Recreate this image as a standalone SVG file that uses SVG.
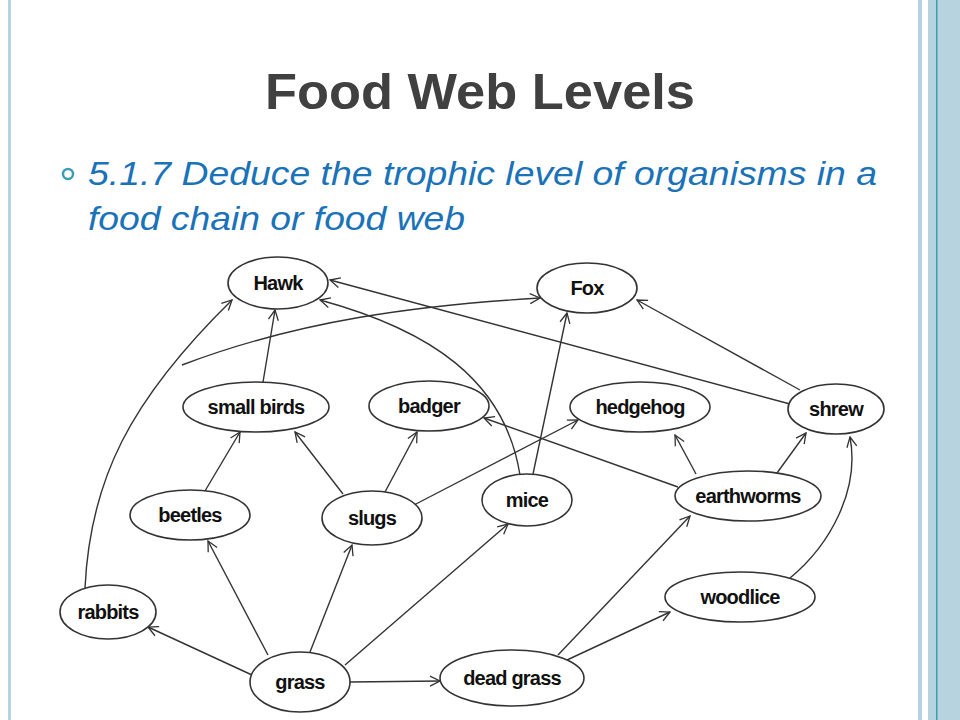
<svg xmlns="http://www.w3.org/2000/svg" width="960" height="720" viewBox="0 0 960 720">
<defs>
<marker id="ah" viewBox="0 0 12 12" refX="11" refY="6" markerWidth="12" markerHeight="12" markerUnits="userSpaceOnUse" orient="auto">
<path d="M1,1 L11,6 L1,11" fill="none" stroke="#333" stroke-width="1.3"/>
</marker>
</defs>
<style>
.n ellipse{fill:#fff;stroke:#333;stroke-width:1.6}
.n text{font-family:"Liberation Sans",Arial,sans-serif;font-size:20px;font-weight:bold;fill:#111;text-anchor:middle;letter-spacing:-0.8px}
#edges path{fill:none;stroke:#333;stroke-width:1.4;marker-end:url(#ah)}
</style>
<rect width="960" height="720" fill="#fff"/>
<rect x="8" y="0" width="3" height="720" fill="#b8d3e0"/>
<rect x="918" y="0" width="4" height="720" fill="#b8d3e0"/>
<rect x="928" y="0" width="32" height="720" fill="#b8d3e0"/>
<rect x="936" y="0" width="1.5" height="720" fill="#3aa0a8"/>
<text x="265" y="109" font-family="Liberation Sans,Arial,sans-serif" font-size="50" font-weight="bold" fill="#404040" textLength="430" lengthAdjust="spacingAndGlyphs">Food Web Levels</text>
<circle cx="68" cy="174" r="5" fill="none" stroke="#3b9db5" stroke-width="2.5"/>
<text font-family="Liberation Sans,Arial,sans-serif" font-size="33" font-style="italic" fill="#1a72b8"><tspan x="88" y="185" textLength="789" lengthAdjust="spacingAndGlyphs">5.1.7 Deduce the trophic level of organisms in a</tspan><tspan x="88" y="230" textLength="377" lengthAdjust="spacingAndGlyphs">food chain or food web</tspan></text>
<g id="edges">
<path d="M85,588 C90,480 130,400 232,300"/>
<path d="M182,365 C300,320 420,305 540,298"/>
<path d="M263,382 L275,310"/>
<path d="M520,475 C505,380 430,330 320,300"/>
<path d="M790,404 L330,280"/>
<path d="M800,390 L637,300"/>
<path d="M533,474 L567,313"/>
<path d="M205,491 L240,432"/>
<path d="M343,494 L295,432"/>
<path d="M385,492 L417,432"/>
<path d="M414,505 L578,420"/>
<path d="M678,487 L484,418"/>
<path d="M696,474 L675,435"/>
<path d="M777,473 L806,433"/>
<path d="M790,578 C830,545 860,490 850,437"/>
<path d="M252,675 L148,627"/>
<path d="M268,655 L208,541"/>
<path d="M310,652 L352,545"/>
<path d="M345,665 L508,524"/>
<path d="M350,682 L440,681"/>
<path d="M558,655 L690,516"/>
<path d="M567,660 L670,612"/>
</g>
<g id="hawk" class="n"><ellipse cx="278" cy="283" rx="50" ry="26"/><text x="278" y="290">Hawk</text></g>
<g id="fox" class="n"><ellipse cx="587" cy="288" rx="50" ry="25"/><text x="587" y="295">Fox</text></g>
<g id="smallbirds" class="n"><ellipse cx="256" cy="407" rx="73" ry="25"/><text x="256" y="414">small birds</text></g>
<g id="badger" class="n"><ellipse cx="429" cy="406" rx="60" ry="25"/><text x="429" y="413">badger</text></g>
<g id="hedgehog" class="n"><ellipse cx="640" cy="407" rx="70" ry="25"/><text x="640" y="414">hedgehog</text></g>
<g id="shrew" class="n"><ellipse cx="836" cy="409" rx="48" ry="25"/><text x="836" y="416">shrew</text></g>
<g id="beetles" class="n"><ellipse cx="190" cy="515" rx="60" ry="25"/><text x="190" y="522">beetles</text></g>
<g id="slugs" class="n"><ellipse cx="372" cy="518" rx="50" ry="27"/><text x="372" y="525">slugs</text></g>
<g id="mice" class="n"><ellipse cx="527" cy="500" rx="45" ry="26"/><text x="527" y="507">mice</text></g>
<g id="earthworms" class="n"><ellipse cx="748" cy="496" rx="73" ry="25"/><text x="748" y="503">earthworms</text></g>
<g id="rabbits" class="n"><ellipse cx="108" cy="612" rx="48" ry="27"/><text x="108" y="619">rabbits</text></g>
<g id="woodlice" class="n"><ellipse cx="740" cy="597" rx="75" ry="25"/><text x="740" y="604">woodlice</text></g>
<g id="grass" class="n"><ellipse cx="300" cy="682" rx="50" ry="30"/><text x="300" y="689">grass</text></g>
<g id="deadgrass" class="n"><ellipse cx="512" cy="678" rx="72" ry="28"/><text x="512" y="685">dead grass</text></g>
</svg>
